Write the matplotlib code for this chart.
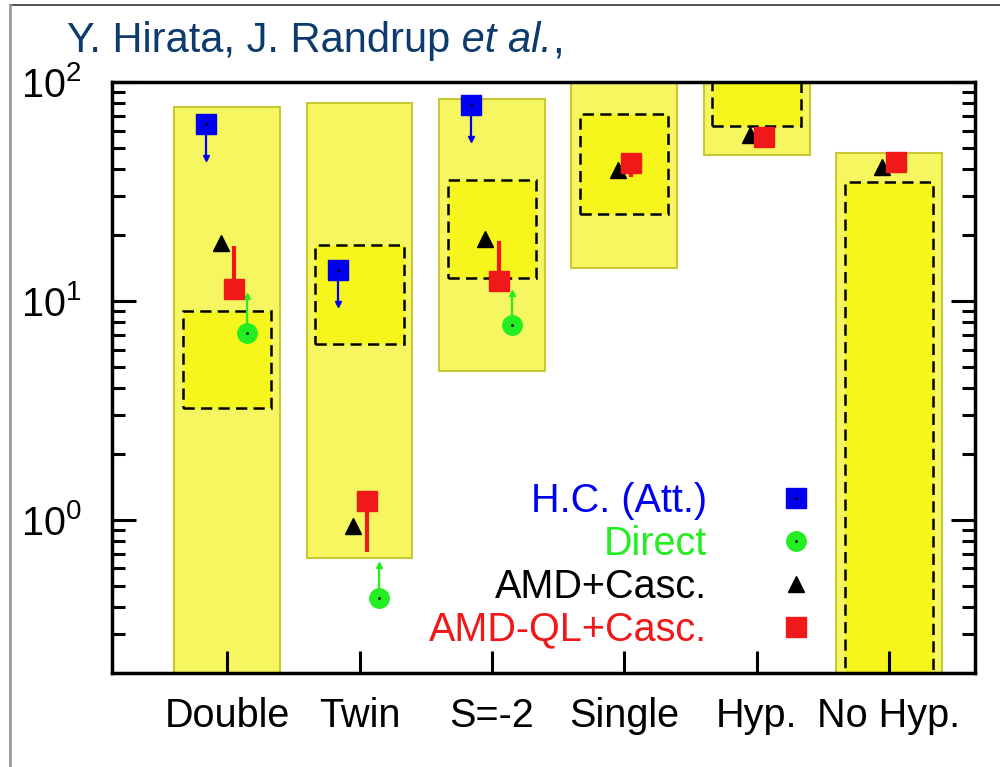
import matplotlib
matplotlib.use("Agg")
import matplotlib.pyplot as plt
from matplotlib.lines import Line2D
from matplotlib.ticker import NullFormatter
import numpy as np

plt.rcParams['font.family'] = ['Liberation Sans', 'DejaVu Sans']
plt.rcParams['mathtext.fontset'] = 'custom'
plt.rcParams['mathtext.rm'] = 'Liberation Sans'

nan = np.nan
cats = ["Double", "Twin", "S=-2", "Single", "Hyp.", "No Hyp."]

# light bands and dashed bands (parts beyond the frame get clipped)
outer_lo = np.array([0.1, 0.667, 4.8, 14.1, 46.2, 0.1])
outer_hi = np.array([76.8, 80.0, 84.0, 150.0, 150.0, 47.2])
inner_lo = np.array([3.25, 6.38, 12.7, 25.0, 63.2, 0.1])
inner_hi = np.array([9.0, 18.1, 35.6, 71.7, 150.0, 34.9])

# H.C. (Att.) with arrow end, Direct with arrow end
hc_val = np.array([64.6, 13.9, 78.5, nan, nan, nan])
hc_end = np.array([44.9, 9.7, 54.8, nan, nan, nan])
direct_val = np.array([7.17, 0.44, 7.78, nan, nan, nan])
direct_end = np.array([10.5, 0.62, 10.9, nan, nan, nan])
# AMD+Casc., AMD-QL+Casc. (with range end)
amd_val = np.array([18.3, 0.94, 19.1, 39.5, 57.5, 40.8])
ql_val = np.array([11.3, 1.22, 12.3, 42.6, 55.8, 43.0])
ql_end = np.array([17.9, 0.717, 18.7, 37.0, nan, nan])

c_blue = '#0000f0'
c_green = '#22ee22'
c_red = '#f01818'
c_black = 'black'

fig = plt.figure(figsize=(10, 7.67), dpi=100)
ax = fig.add_axes([0.112, 0.1226, 0.863, 0.7705])
ax.set_yscale('log')

x = np.arange(len(cats))

ax.bar(x, outer_hi - outer_lo, bottom=outer_lo, width=0.8,
       color='#f6f660', edgecolor='#c8c834', linewidth=1.5, zorder=1)
ax.bar(x, inner_hi - inner_lo, bottom=inner_lo, width=0.667,
       color='#f6f61c', edgecolor='black', linewidth=1.8,
       linestyle=(0, (4.5, 2.5)), zorder=1.5)

# offsets of each model inside a category
off_hc, off_dir, off_amd, off_ql = -0.16, 0.15, -0.05, 0.053

# arrows / range lines
ax.vlines(x + off_hc, hc_val, hc_end, color=c_blue, lw=1.6, zorder=2)
ax.plot(x + off_hc, hc_end, 'v', color=c_blue, ms=5, zorder=2)
ax.vlines(x + off_dir, direct_val, direct_end, color=c_green, lw=1.6, zorder=2)
ax.plot(x + off_dir, direct_end, '^', color=c_green, ms=5, zorder=2)

ax.plot(x + off_amd, amd_val, '^', color=c_black, ms=12, ls='none', zorder=3)
ax.vlines(x + off_ql, ql_val, ql_end, color=c_red, lw=3, zorder=3.5)
ax.plot(x + off_ql, ql_val, 's', color=c_red, ms=15, ls='none', zorder=4)
ax.plot(x + off_hc, hc_val, 's', color=c_blue, ms=14, ls='none', zorder=4)
ax.plot(x + off_dir, direct_val, 'o', color=c_green, ms=14, ls='none', zorder=4)
ax.plot(x + off_hc, hc_val, '.', color='black', ms=2, zorder=5)
ax.plot(x + off_dir, direct_val, '.', color='black', ms=2, zorder=5)

ax.set_xlim(-0.87, 5.65)
ax.set_ylim(0.2, 100)
ax.set_xticks(x, cats)
ax.yaxis.set_minor_formatter(NullFormatter())

ax.tick_params(axis='x', which='major', direction='in', length=16, width=2.2,
               top=False, pad=17, labelsize=28.5)
ax.tick_params(axis='y', which='major', direction='in', length=17, width=2.2,
               right=True, pad=22, labelsize=28.5)
ax.tick_params(axis='y', which='minor', direction='in', length=9.5, width=2.2,
               right=True)
for s in ax.spines.values():
    s.set_linewidth(2.5)

# legend: text right-aligned, marker on the right
h_hc = (Line2D([], [], ls='none', marker='s', ms=14, color=c_blue),
        Line2D([], [], ls='none', marker='.', ms=2, color='black'))
h_dir = (Line2D([], [], ls='none', marker='o', ms=14, color=c_green),
         Line2D([], [], ls='none', marker='.', ms=2, color='black'))
h_amd = Line2D([], [], ls='none', marker='^', ms=12, color=c_black)
h_ql = Line2D([], [], ls='none', marker='s', ms=15, color=c_red)
leg = ax.legend([h_hc, h_dir, h_amd, h_ql],
                ["H.C. (Att.)", "Direct", "AMD+Casc.", "AMD-QL+Casc."],
                loc='center right', bbox_to_anchor=(0.816, 0.182),
                frameon=False, markerfirst=False, fontsize=28.5,
                handlelength=1.0, handletextpad=1.75, labelspacing=0.12,
                borderpad=0, borderaxespad=0)
for t, c in zip(leg.get_texts(), [c_blue, c_green, c_black, c_red]):
    t.set_color(c)
leg._legend_handle_box.get_children()[0].align = 'right'

# author line, italic "et al." chained after the upright part
t1 = fig.text(0.067, 0.932, "Y. Hirata, J. Randrup", fontsize=30,
              color='#0d3b6e', va='baseline')
t2 = ax.annotate(" et al.", xy=(1, 0), xycoords=t1, fontsize=30,
                 color='#0d3b6e', style='italic', va='bottom', ha='left',
                 annotation_clip=False)
t3 = ax.annotate(",", xy=(1, 0), xycoords=t2, fontsize=30,
                 color='#0d3b6e', va='bottom', ha='left',
                 annotation_clip=False)

# slide frame
fig.add_artist(Line2D([0.01, 1.0], [0.993, 0.993], transform=fig.transFigure,
                      color='#333333', lw=1.2))
fig.add_artist(Line2D([0.01, 0.01], [0.0, 0.993], transform=fig.transFigure,
                      color='#999999', lw=2))

fig.savefig('out.png', dpi=100)
